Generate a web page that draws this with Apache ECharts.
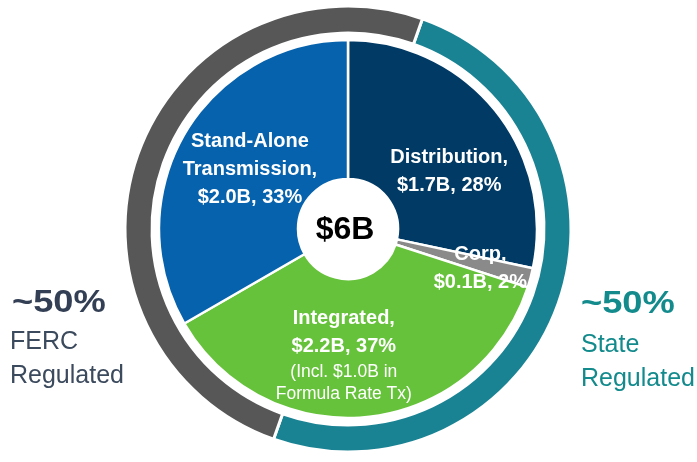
<!DOCTYPE html>
<html>
<head>
<meta charset="utf-8">
<script src="https://cdn.jsdelivr.net/npm/echarts@6/dist/echarts.min.js"></script>
<style>
  html, body { margin: 0; padding: 0; background: #fff; }
  #main { width: 697px; height: 462px; }
</style>
</head>
<body>
<div id="main"></div>
<script>
// capital plan by segment ($B), clockwise from 12 o'clock
var segments = ['Distribution', 'Corp', 'Integrated', 'Stand-Alone\nTransmission'];
var amounts  = [1.7, 0.1, 2.2, 2.0];
var shares   = [28, 2, 37, 33];
var notes    = ['', '', '(Incl. $1.0B in\nFormula Rate Tx)', ''];
var colors   = ['#013a65', '#8a8a8a', '#66c23a', '#0662ad'];

// outer ring: regulation split
var regGroups = ['State Regulated', 'FERC Regulated'];
var regShares = [50, 50];
var regColors = ['#1a8393', '#575757'];

// nudges of each slice label from its default inside spot
var labelNudge = [[6, 20], [14, 8], [-17, 4], [8, 2]];

var total = amounts.reduce(function (a, b) { return a + b; }, 0);

var chart = echarts.init(document.getElementById('main'));

var FONT = '"Liberation Sans", Arial, sans-serif';

function sliceLabel(p) {
    var i = p.dataIndex;
    var lines = segments[i].split('\n');
    lines[lines.length - 1] += ',';
    lines.push('$' + amounts[i].toFixed(1) + 'B, ' + shares[i] + '%');
    var out = lines.map(function (l) { return '{b|' + l + '}'; });
    if (notes[i]) {
        notes[i].split('\n').forEach(function (l) { out.push('{s|' + l + '}'); });
    }
    return out.join('\n');
}

chart.setOption({
    animation: false,
    series: [
        {
            name: 'Regulation',
            type: 'pie',
            silent: true,
            center: [348, 229],
            radius: [196, 223],
            startAngle: 70.5,
            clockwise: true,
            label: { show: false },
            labelLine: { show: false },
            itemStyle: { borderColor: '#fff', borderWidth: 3 },
            data: regGroups.map(function (g, i) {
                return { name: g, value: regShares[i], itemStyle: { color: regColors[i] } };
            })
        },
        {
            name: 'Segments',
            type: 'pie',
            silent: true,
            center: [348, 229],
            radius: [50, 189],
            startAngle: 90,
            clockwise: true,
            itemStyle: { borderColor: '#fff', borderWidth: 2.5 },
            label: {
                show: true,
                position: 'inside',
                formatter: sliceLabel,
                align: 'center',
                rich: {
                    b: { color: '#fff', fontFamily: FONT, fontWeight: 'bold', fontSize: 20, lineHeight: 28, align: 'center' },
                    s: { color: '#fff', fontFamily: FONT, fontSize: 17.5, lineHeight: 22, align: 'center' }
                }
            },
            labelLine: { show: false },
            labelLayout: function (p) {
                var n = labelNudge[p.dataIndex];
                return { dx: n[0], dy: n[1] };
            },
            data: segments.map(function (s, i) {
                return { name: s, value: amounts[i], itemStyle: { color: colors[i] } };
            })
        }
    ],
    graphic: [
        {
            type: 'text', x: 345, y: 230, silent: true,
            style: { text: '$' + total.toFixed(0) + 'B', fill: '#000', font: 'bold 32px ' + FONT, align: 'center', verticalAlign: 'middle' }
        },
        // left side: FERC
        {
            type: 'text', x: 12, y: 303, scaleX: 1.17, silent: true,
            style: { text: '~' + regShares[1] + '%', fill: '#333f54', font: 'bold 31px ' + FONT, verticalAlign: 'middle' }
        },
        {
            type: 'text', x: 10, y: 342, silent: true,
            style: { text: regGroups[1].split(' ')[0], fill: '#3c4a5d', font: '25px ' + FONT, verticalAlign: 'middle' }
        },
        {
            type: 'text', x: 10, y: 376, silent: true,
            style: { text: regGroups[1].split(' ')[1], fill: '#3c4a5d', font: '25px ' + FONT, verticalAlign: 'middle' }
        },
        // right side: State
        {
            type: 'text', x: 581, y: 304, scaleX: 1.17, silent: true,
            style: { text: '~' + regShares[0] + '%', fill: '#138a8c', font: 'bold 31px ' + FONT, verticalAlign: 'middle' }
        },
        {
            type: 'text', x: 581, y: 345, silent: true,
            style: { text: regGroups[0].split(' ')[0], fill: '#138a8c', font: '25px ' + FONT, verticalAlign: 'middle' }
        },
        {
            type: 'text', x: 581, y: 379, silent: true,
            style: { text: regGroups[0].split(' ')[1], fill: '#138a8c', font: '25px ' + FONT, verticalAlign: 'middle' }
        }
    ]
});
</script>
</body>
</html>
